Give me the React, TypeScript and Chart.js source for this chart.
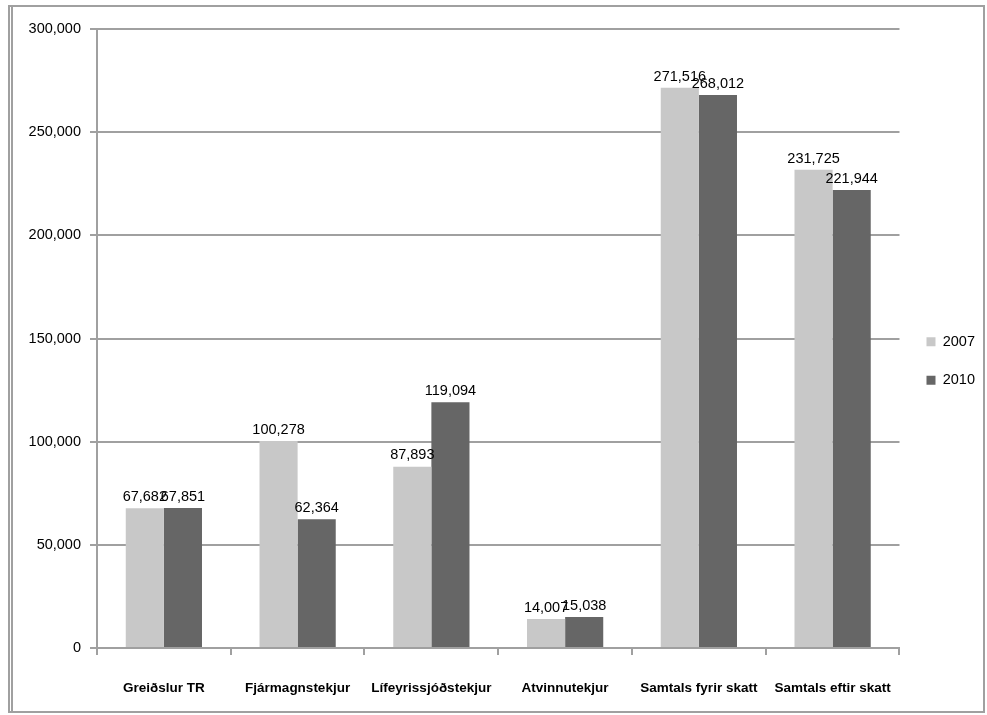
import React, { useEffect, useRef } from "react";
import { Chart, registerables } from "chart.js";

Chart.register(...registerables);

const categories = [
  "Greiðslur TR",
  "Fjármagnstekjur",
  "Lífeyrissjóðstekjur",
  "Atvinnutekjur",
  "Samtals fyrir skatt",
  "Samtals eftir skatt",
];
const seriesNames = ["2007", "2010"];
const values2007 = [67682, 100278, 87893, 14007, 271516, 231725];
const values2010 = [67851, 62364, 119094, 15038, 268012, 221944];
const yMin = 0;
const yMax = 300000;
const yStep = 50000;

const FONT = "'Liberation Sans', Arial, sans-serif";
const fmt = (v: number) => v.toLocaleString("en-US");

const dataLabels = {
  id: "dataLabels",
  afterDatasetsDraw(chart: any) {
    const ctx = chart.ctx;
    ctx.save();
    ctx.font = `14.5px ${FONT}`;
    ctx.fillStyle = "#000";
    ctx.textAlign = "center";
    ctx.textBaseline = "bottom";
    chart.data.datasets.forEach((ds: any, di: number) => {
      const meta = chart.getDatasetMeta(di);
      meta.data.forEach((bar: any, i: number) => {
        ctx.fillText(fmt(ds.data[i]), bar.x, bar.y - 4);
      });
    });
    ctx.restore();
  },
};

const legendNudge = {
  id: "legendNudge",
  afterLayout(chart: any) {
    const lg = chart.legend;
    if (!lg) return;
    const dx = 3;
    const dy = -11;
    lg.left += dx;
    lg.right += dx;
    lg.top += dy;
    lg.bottom += dy;
  },
};

export default function App() {
  const ref = useRef<HTMLCanvasElement>(null);
  useEffect(() => {
    if (!ref.current) return;
    const chart = new Chart(ref.current, {
      type: "bar",
      data: {
        labels: categories,
        datasets: [
          {
            label: seriesNames[0],
            data: values2007,
            backgroundColor: "#c8c8c8",
            categoryPercentage: 0.57,
            barPercentage: 1,
          },
          {
            label: seriesNames[1],
            data: values2010,
            backgroundColor: "#666666",
            categoryPercentage: 0.57,
            barPercentage: 1,
          },
        ],
      },
      options: {
        responsive: false,
        animation: false,
        devicePixelRatio: 1,
        layout: { padding: { left: 0, top: 29, right: 5, bottom: 0 } },
        plugins: {
          tooltip: { enabled: false },
          legend: {
            position: "right",
            labels: {
              boxWidth: 9,
              boxHeight: 9,
              padding: 24,
              color: "#000",
              font: { family: FONT, size: 14.5 },
            },
          },
        },
        scales: {
          x: {
            grid: {
              drawOnChartArea: false,
              drawTicks: true,
              tickLength: 7,
              color: "#a0a0a0",
              lineWidth: 2,
              offset: true,
            },
            border: { color: "#a0a0a0", width: 2 },
            ticks: {
              color: "#000",
              padding: 25,
              maxRotation: 0,
              autoSkip: false,
              font: { family: FONT, size: 13.5, weight: "bold" },
            },
            afterFit(scale: any) {
              scale.height = 67;
            },
          },
          y: {
            min: yMin,
            max: yMax,
            ticks: {
              stepSize: yStep,
              color: "#000",
              padding: 9,
              font: { family: FONT, size: 14.5 },
              callback: (v: any) => fmt(Number(v)),
            },
            grid: {
              color: "#a0a0a0",
              lineWidth: 2,
              tickLength: 7,
            },
            border: { color: "#a0a0a0", width: 2 },
            afterFit(scale: any) {
              scale.width = 97;
            },
          },
        },
      },
      plugins: [dataLabels, legendNudge],
    });
    return () => chart.destroy();
  }, []);

  return (
    <div
      style={{
        position: "fixed",
        left: 0,
        top: 0,
        width: 987,
        height: 715,
        background: "#fff",
      }}
    >
      <div
        style={{
          position: "absolute",
          left: 8,
          top: 5,
          width: 973,
          height: 704,
          border: "2px solid #a0a0a0",
        }}
      />
      <div
        style={{
          position: "absolute",
          left: 11,
          top: 5,
          width: 2,
          height: 708,
          background: "#a0a0a0",
        }}
      />
      <canvas
        ref={ref}
        width={987}
        height={715}
        style={{ position: "absolute", left: 0, top: 0, width: 987, height: 715 }}
      />
    </div>
  );
}
